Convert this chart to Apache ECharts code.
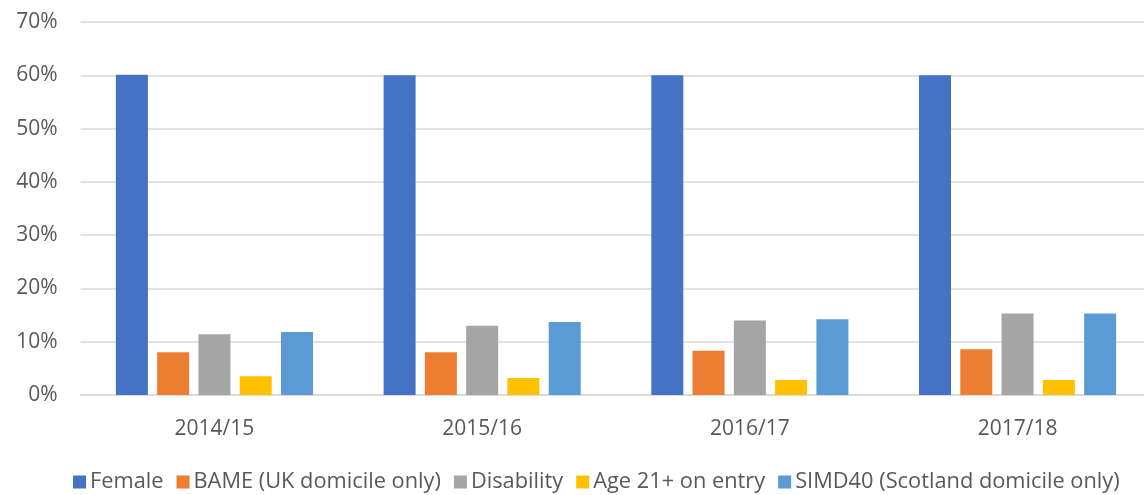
<!DOCTYPE html>
<html><head><meta charset="utf-8">
<script src="https://cdn.jsdelivr.net/npm/echarts@6/dist/echarts.min.js"></script>
<style>html,body{margin:0;padding:0;background:#fff}#c{width:1144px;height:495px}</style>
</head><body><div id="c"></div>
<script>
const categories = ['2014/15', '2015/16', '2016/17', '2017/18'];
const seriesNames = ['Female', 'BAME (UK domicile only)', 'Disability', 'Age 21+ on entry', 'SIMD40 (Scotland domicile only)'];
const female = [60.1, 60.0, 60.0, 60.0];
const bame = [8.0, 8.0, 8.3, 8.6];
const disability = [11.4, 13.0, 14.0, 15.3];
const age21 = [3.5, 3.2, 2.8, 2.8];
const simd40 = [11.8, 13.7, 14.2, 15.3];
const colors = ['#4472C4', '#ED7D31', '#A5A5A5', '#FFC000', '#5B9BD5'];
const values = [female, bame, disability, age21, simd40];

const chart = echarts.init(document.getElementById('c'));
const font = 'Open Sans, Liberation Sans, sans-serif';
chart.setOption({
  animation: false,
  grid: {left: 80.6, right: -7.4, top: 22, bottom: 100, outerBoundsMode: 'none'},
  legend: {
    top: 466, left: 68, itemWidth: 13, itemHeight: 13, itemGap: 13,
    icon: 'rect',
    textStyle: {fontFamily: font, fontSize: 21.8, color: '#595959', padding: [0, 0, 0, -1]},
    data: seriesNames
  },
  xAxis: {
    type: 'category', data: categories,
    axisLine: {lineStyle: {color: '#d9d9d9', width: 1.5}},
    axisTick: {show: false},
    axisLabel: {fontFamily: font, fontSize: 21, color: '#595959', margin: 24}
  },
  yAxis: {
    type: 'value', min: 0, max: 70, interval: 10,
    axisLabel: {formatter: '{value}%', fontFamily: font, fontSize: 21, color: '#595959', margin: 23},
    splitLine: {lineStyle: {color: '#d9d9d9', width: 1.5}},
    axisLine: {show: false}, axisTick: {show: false}
  },
  series: seriesNames.map((n, i) => ({
    name: n, type: 'bar', data: values[i], barWidth: 32, barGap: '29%',
    itemStyle: {color: colors[i]}
  }))
});
</script></body></html>
